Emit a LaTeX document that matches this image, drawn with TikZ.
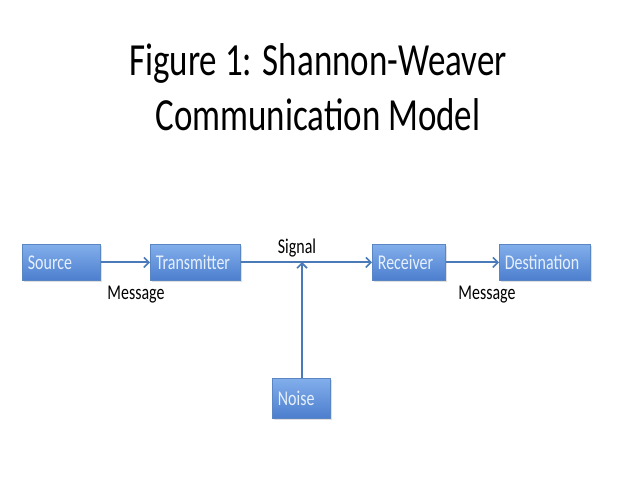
\documentclass[tikz,border=0pt]{standalone}
\usepackage{fontspec}
\setmainfont{Carlito}
\usetikzlibrary{arrows.meta,shadows}
\definecolor{boxtop}{HTML}{82AEEB}
\definecolor{boxbot}{HTML}{4C7ECE}
\definecolor{boxline}{HTML}{5A86C4}
\definecolor{arrowc}{HTML}{4A7AB8}
\definecolor{boxtext}{HTML}{E6F0FC}
\newcommand{\sqz}[1]{\scalebox{0.76}[1]{#1}}
\begin{document}
\begin{tikzpicture}[x=1pt,y=-1pt,
  blockbox/.style={draw=boxline, line width=0.8pt, top color=boxtop, bottom color=boxbot,
    text=boxtext, font=\fontsize{21}{24}\selectfont, inner xsep=5.5pt, inner ysep=0pt,
    align=left, text width=#1-11pt, anchor=north west,
    drop shadow={opacity=0.25, shadow xshift=1.5pt, shadow yshift=-1.5pt}},
  conn/.style={draw=arrowc, line width=2pt, -{Straight Barb[length=5pt,width=10pt,line width=1.6pt]}},
  lbl/.style={font=\fontsize{21}{24}\selectfont, text=black, inner sep=0pt, anchor=base},
  titletext/.style={font=\fontsize{46}{55}\selectfont, inner sep=0pt, anchor=base}]
\useasboundingbox (0,0) rectangle (638,479);
\fill[white] (0,0) rectangle (638,479);
\node[titletext] (title1) at (318,75) {\sqz{Figure 1: Shannon-Weaver}};
\node[titletext] (title2) at (318,130) {\sqz{Communication Model}};
\node[blockbox=78pt, minimum height=36pt] (src) at (22,244) {\sqz{Source}};
\node[blockbox=90pt, minimum height=36pt] (tx) at (150,244) {\sqz{Transmitter}};
\node[blockbox=73pt, minimum height=36pt] (rx) at (372,244) {\sqz{Receiver}};
\node[blockbox=91pt, minimum height=36pt] (dst) at (499,244) {\sqz{Destination}};
\node[blockbox=58pt, minimum height=40pt] (noise) at (272,378) {\sqz{Noise}};
\coordinate (join) at (302,262);
\draw[conn] (src) -- (tx);
\draw[conn] (tx) -- (rx);
\draw[conn] (rx) -- (dst);
\draw[conn] (noise.north -| join) -- (join);
\node[lbl] (sig) at (297,253) {\sqz{Signal}};
\node[lbl] (m1) at (136,299) {\sqz{Message}};
\node[lbl] (m2) at (487,299) {\sqz{Message}};
\end{tikzpicture}
\end{document}
